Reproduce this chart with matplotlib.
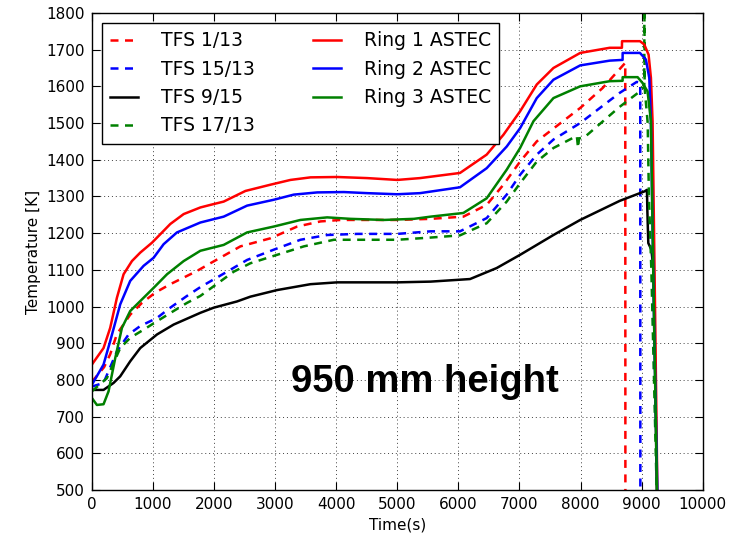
import numpy as np
import matplotlib
matplotlib.use("Agg")
import matplotlib.pyplot as plt

# TFS 1/13 thermocouple (red dashed)
t_tfs1 = [0, 200, 300, 410, 628, 820, 1038, 1284, 1503, 1721, 1940, 2432, 2923, 3361, 3743,
          4071, 4508, 5000, 5546, 6082, 6464, 6738, 7011, 7284, 7557, 7995, 8360, 8733, 8735]
T_tfs1 = [795, 835, 870, 925, 978, 1010, 1038, 1061, 1079, 1097, 1118, 1164, 1186, 1218, 1232,
          1236, 1236, 1236, 1239, 1245, 1277, 1332, 1395, 1450, 1485, 1541, 1595, 1664, 400]

# TFS 15/13 thermocouple (blue dashed)
t_tfs15 = [0, 191, 410, 601, 792, 1066, 1284, 1557, 1776, 2213, 2541, 2978, 3415, 3852, 4344,
           5000, 5546, 6027, 6464, 6792, 7011, 7284, 7557, 7995, 8640, 8920, 8978, 8980]
T_tfs15 = [782, 792, 878, 924, 947, 969, 997, 1029, 1053, 1095, 1127, 1155, 1182, 1195, 1198,
           1198, 1205, 1205, 1241, 1305, 1359, 1414, 1455, 1500, 1582, 1612, 1610, 400]

# TFS 9/15 thermocouple (black)
t_tfs9 = [0, 191, 355, 464, 628, 792, 1066, 1339, 1776, 1995, 2377, 2595, 3033, 3579, 4016,
          4508, 5000, 5546, 6191, 6628, 7011, 7557, 7995, 8642, 9051, 9088, 9095, 9110, 9160,
          9200, 9250]
T_tfs9 = [773, 773, 792, 810, 851, 887, 924, 951, 983, 997, 1014, 1027, 1045, 1061, 1066,
          1066, 1066, 1068, 1075, 1105, 1141, 1195, 1236, 1288, 1314, 1318, 1259, 1173, 1155,
          1095, 480]

# TFS 17/13 thermocouple (green dashed)
t_tfs17 = [0, 246, 464, 628, 847, 1066, 1339, 1557, 1776, 2322, 2595, 3033, 3470, 3962,
           4508, 5000, 5546, 6027, 6464, 6792, 7011, 7284, 7557, 7940, 7960, 7975, 8070,
           8640, 8940, 9000, 9044, 9046, 9050, 9100, 9120, 9160, 9250]
T_tfs17 = [769, 805, 887, 915, 937, 960, 988, 1010, 1029, 1095, 1118, 1141, 1164, 1182,
           1182, 1182, 1188, 1194, 1227, 1286, 1336, 1395, 1432, 1465, 1432, 1458, 1462,
           1544, 1582, 1596, 1596, 1850, 1596, 1500, 1300, 1100, 480]

# ASTEC ring 1 (red)
t_ring1 = [0, 191, 300, 410, 519, 656, 792, 984, 1120, 1284, 1503, 1776, 1940, 2158, 2514,
           2923, 3251, 3579, 4016, 4508, 5000, 5372, 6027, 6464, 6738, 7011, 7284, 7557,
           7995, 8478, 8678, 8680, 8973, 9044, 9115, 9153, 9180, 9220, 9260]
T_ring1 = [842, 887, 942, 1024, 1088, 1124, 1147, 1174, 1197, 1225, 1252, 1270, 1277, 1286,
           1315, 1332, 1345, 1352, 1353, 1350, 1345, 1350, 1364, 1414, 1468, 1532, 1605,
           1650, 1691, 1705, 1705, 1723, 1723, 1714, 1686, 1623, 1505, 1000, 480]

# ASTEC ring 2 (blue)
t_ring2 = [0, 191, 300, 464, 628, 847, 1011, 1175, 1393, 1776, 2158, 2541, 2978, 3306, 3689,
           4126, 4508, 5000, 5372, 6027, 6464, 6792, 7011, 7284, 7557, 7995, 8478, 8689,
           8690, 8973, 9071, 9126, 9153, 9200, 9260]
T_ring2 = [787, 842, 906, 1006, 1070, 1111, 1133, 1170, 1202, 1229, 1245, 1275, 1291, 1305,
           1311, 1312, 1309, 1306, 1309, 1325, 1377, 1436, 1486, 1568, 1618, 1657, 1670,
           1672, 1691, 1691, 1673, 1623, 1505, 1000, 480]

# ASTEC ring 3 (green)
t_ring3 = [0, 82, 191, 273, 383, 492, 628, 792, 1011, 1230, 1503, 1776, 2158, 2541, 2978,
           3415, 3852, 4235, 4781, 5273, 5546, 6082, 6464, 6792, 7011, 7230, 7557, 7995,
           8478, 8689, 8690, 8935, 9016, 9098, 9153, 9200, 9255]
T_ring3 = [751, 732, 734, 769, 860, 942, 988, 1015, 1051, 1088, 1124, 1152, 1168, 1202, 1218,
           1236, 1243, 1239, 1236, 1239, 1245, 1255, 1295, 1373, 1432, 1505, 1568, 1600,
           1614, 1615, 1625, 1625, 1609, 1586, 1505, 1000, 480]

x_ticks = np.arange(0, 10001, 1000)
y_ticks = np.arange(500, 1801, 100)

plt.rcParams['font.family'] = ['DejaVu Sans']
fig = plt.figure(figsize=(7.35, 5.38), dpi=100, facecolor='white')
ax = fig.add_axes([0.125, 0.089, 0.831, 0.887])

lw = 1.8
dash = (0, (3.2, 2.6))
ax.plot(t_tfs1, T_tfs1, color='#ff0000', lw=lw, linestyle=dash, label='TFS 1/13')
ax.plot(t_tfs15, T_tfs15, color='#0000ff', lw=lw, linestyle=dash, label='TFS 15/13')
ax.plot(t_tfs9, T_tfs9, color='black', lw=lw, label='TFS 9/15')
ax.plot(t_tfs17, T_tfs17, color='#008000', lw=lw, linestyle=dash, label='TFS 17/13')
ax.plot(t_ring1, T_ring1, color='#ff0000', lw=lw, label='Ring 1 ASTEC')
ax.plot(t_ring2, T_ring2, color='#0000ff', lw=lw, label='Ring 2 ASTEC')
ax.plot(t_ring3, T_ring3, color='#008000', lw=lw, label='Ring 3 ASTEC')

ax.set_xlim(0, 10000)
ax.set_ylim(500, 1800)
ax.set_xticks(x_ticks)
ax.set_yticks(y_ticks)
ax.tick_params(direction='in', length=6, width=0.8, top=True, right=True,
               labelsize=11, pad=5)
ax.grid(True, color='0.25', linestyle=(0, (1, 3)), linewidth=0.7)
for s in ax.spines.values():
    s.set_linewidth(1.0)

ax.set_xlabel('Time(s)', fontsize=11)
ax.set_ylabel('Temperature [K]', fontsize=11)

ax.text(5450, 767, '950 mm height', fontsize=27.5, fontweight='bold',
        family='Liberation Sans', ha='center', va='baseline')

leg = ax.legend(ncol=2, loc='upper left', bbox_to_anchor=(0.0164, 0.979),
                borderaxespad=0, fontsize=13.5, handlelength=1.5,
                handletextpad=1.2, columnspacing=3.1, labelspacing=0.5,
                borderpad=0.45, fancybox=False, framealpha=1)
leg.get_frame().set_edgecolor('black')
leg.get_frame().set_linewidth(1.0)

fig.savefig('out.png', dpi=100, facecolor='white')
